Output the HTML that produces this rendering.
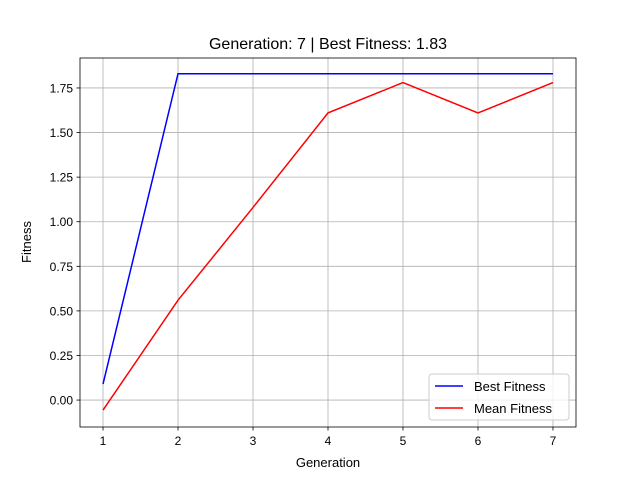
<!DOCTYPE html>
<html><head><meta charset="utf-8"><style>
body{margin:0;background:#fff;}
svg{font-family:"Liberation Sans","DejaVu Sans",sans-serif;}
</style></head><body>
<svg id="chart" width="640" height="480">
<rect width="640" height="480" fill="#fff"/>
<text x="328" y="49" font-size="16" text-anchor="middle">Generation: 7 | Best Fitness: 1.83</text>
<g id="grid"></g>
<g id="series"></g>
<rect x="80" y="58" width="496" height="369" fill="none" stroke="#000" stroke-width="0.8"/>
<g id="axes"></g>
<text x="328" y="467" font-size="13" text-anchor="middle">Generation</text>
<text transform="translate(31,242) rotate(-90)" font-size="13" text-anchor="middle">Fitness</text>
<g>
<rect x="429" y="374" width="140" height="46" rx="3" fill="#fff" fill-opacity="0.8" stroke="#ccc"/>
<line x1="435" y1="386" x2="463" y2="386" stroke="blue" stroke-width="1.5"/>
<text x="474" y="391" font-size="13">Best Fitness</text>
<line x1="435" y1="408" x2="463" y2="408" stroke="red" stroke-width="1.5"/>
<text x="474" y="413" font-size="13">Mean Fitness</text>
</g>
</svg>
<script>
const generations=[1,2,3,4,5,6,7];
const bestFitness=[0.09,1.83,1.83,1.83,1.83,1.83,1.83];
const meanFitness=[-0.056,0.56,1.08,1.61,1.78,1.61,1.78];
const xTicks=[1,2,3,4,5,6,7];
const yTicks=[0,0.25,0.5,0.75,1.0,1.25,1.5,1.75];
const yTickLabels=["0.00","0.25","0.50","0.75","1.00","1.25","1.50","1.75"];
const X0=80,X1=576,Y0=58,Y1=427,xmin=0.693,xmax=7.307,ymin=-0.151,ymax=1.918;
const sx=v=>X0+(v-xmin)/(xmax-xmin)*(X1-X0);
const sy=v=>Y1-(v-ymin)/(ymax-ymin)*(Y1-Y0);
const NS="http://www.w3.org/2000/svg";
const grid=document.getElementById('grid'),axes=document.getElementById('axes'),ser=document.getElementById('series');
function mk(tag,attrs,parent){const e=document.createElementNS(NS,tag);for(const k in attrs)e.setAttribute(k,attrs[k]);parent.appendChild(e);return e;}
xTicks.forEach(t=>{const x=sx(t);
 const g=mk('line',{x1:x,x2:x,y1:Y0,y2:Y1,stroke:'#b0b0b0','stroke-width':0.8},grid);
 
 
 mk('line',{x1:x,x2:x,y1:Y1,y2:Y1+3.5,stroke:'#000','stroke-width':0.8},axes);
 const tx=mk('text',{x:x,y:Y1+18,'font-size':12,'text-anchor':'middle'},axes);tx.textContent=t;
 
 
});
yTicks.forEach((t,i)=>{const y=sy(t);
 const g=mk('line',{x1:X0,x2:X1,y1:y,y2:y,stroke:'#b0b0b0','stroke-width':0.8},grid);
 
 
 mk('line',{x1:X0-3.5,x2:X0,y1:y,y2:y,stroke:'#000','stroke-width':0.8},axes);
 const tx=mk('text',{x:X0-7,y:y+4.5,'font-size':12,'text-anchor':'end'},axes);tx.textContent=yTickLabels[i];
 
 
});
function line(vals,color,name){
 const p=mk('polyline',{points:vals.map((v,i)=>sx(generations[i])+','+sy(v)).join(' '),fill:'none',stroke:color,'stroke-width':1.5},ser);
 
 
}
line(bestFitness,'blue','best-fitness-line');
line(meanFitness,'red','mean-fitness-line');
</script>
</body></html>
